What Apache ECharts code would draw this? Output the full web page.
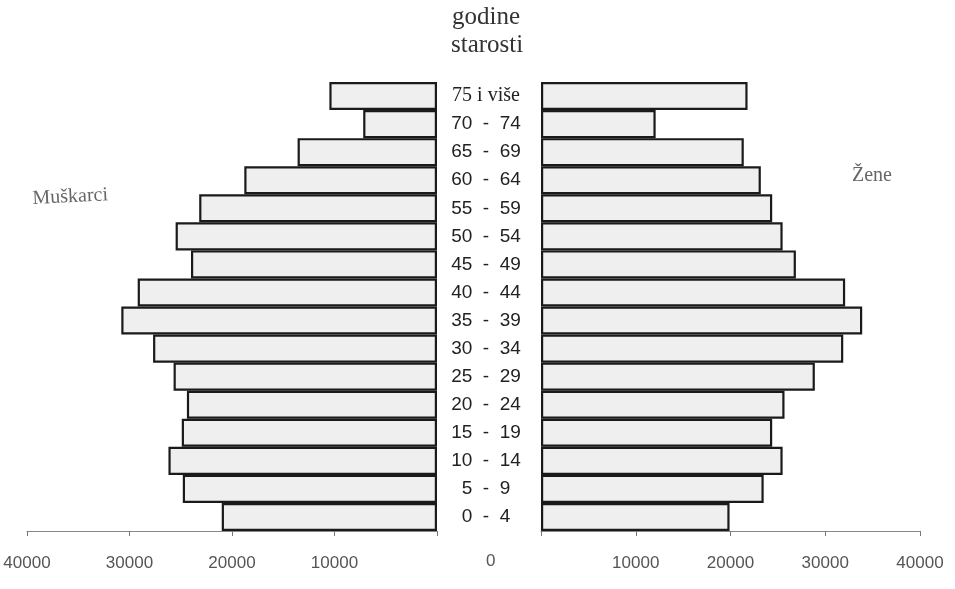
<!DOCTYPE html>
<html>
<head>
<meta charset="utf-8">
<script src="https://cdn.jsdelivr.net/npm/echarts@6/dist/echarts.min.js"></script>
<style>html,body{margin:0;padding:0;background:#fff}#c{width:955px;height:589px}</style>
</head>
<body>
<div id="c"></div>
<script>
const categories = ['0 - 4','5 - 9','10 - 14','15 - 19','20 - 24','25 - 29','30 - 34','35 - 39','40 - 44','45 - 49','50 - 54','55 - 59','60 - 64','65 - 69','70 - 74','75 i više'];
const male   = [21000, 24800, 26200, 24900, 24400, 25700, 27700, 30800, 29200, 24000, 25500, 23200, 18800, 13600, 7200, 10500];
const female = [19900, 23500, 25500, 24400, 25700, 28900, 31900, 33900, 32100, 26900, 25500, 24400, 23200, 21400, 12100, 21800];
const xTicks = [0, 10000, 20000, 30000, 40000];

const chart = echarts.init(document.getElementById('c'), null, {renderer: 'canvas'});
const barStyle = {color: '#efefef', borderColor: '#1a1a1a', borderWidth: 2.2};
const xAxisCommon = {
  type: 'value', min: xTicks[0], max: xTicks[xTicks.length - 1], interval: xTicks[1] - xTicks[0],
  splitLine: {show: false},
  axisLine: {show: true, lineStyle: {color: '#888', width: 1}},
  axisTick: {show: true, length: 5, lineStyle: {color: '#777'}},
  axisLabel: {formatter: v => v === 0 ? '' : String(v), color: '#555', fontSize: 17, fontFamily: 'Liberation Sans', margin: 24}
};
chart.setOption({
  animation: false,
  backgroundColor: '#fff',
  grid: [
    {left: 27, right: 518, top: 82, bottom: 58},
    {left: 541, right: 35, top: 82, bottom: 58}
  ],
  xAxis: [
    Object.assign({gridIndex: 0, inverse: true}, xAxisCommon),
    Object.assign({gridIndex: 1}, xAxisCommon)
  ],
  yAxis: [
    {gridIndex: 0, type: 'category', data: categories, axisLabel: {show: false}, axisLine: {show: false}, axisTick: {show: false}},
    {gridIndex: 1, type: 'category', data: categories, axisLine: {show: false}, axisTick: {show: false},
     axisLabel: {align: 'center', margin: 55, fontSize: 19, color: '#222', fontFamily: 'Liberation Sans',
       formatter: v => v === '75 i više' ? '{s|' + v + '}' : v.replace(' - ', '  -  '),
       rich: {s: {fontFamily: 'Liberation Serif', fontSize: 20, color: '#222'}}}}
  ],
  series: [
    {type: 'bar', name: 'Muškarci', xAxisIndex: 0, yAxisIndex: 0, data: male, barCategoryGap: '0%', itemStyle: barStyle},
    {type: 'bar', name: 'Žene', xAxisIndex: 1, yAxisIndex: 1, data: female, barCategoryGap: '0%', itemStyle: barStyle}
  ],
  graphic: [
    {type: 'text', left: 452, top: 5, style: {text: 'godine', fontSize: 25, fontFamily: 'Liberation Serif', fill: '#333'}},
    {type: 'text', left: 451, top: 33, style: {text: 'starosti', fontSize: 25, fontFamily: 'Liberation Serif', fill: '#333'}},
    {type: 'text', left: 32, top: 185, rotation: 0.05, style: {text: 'Muškarci', fontSize: 20, fontFamily: 'Liberation Serif', fill: '#666'}},
    {type: 'text', left: 852, top: 166, style: {text: 'Žene', fontSize: 20, fontFamily: 'Liberation Serif', fill: '#666'}},
    {type: 'text', left: 486, top: 553, style: {text: '0', fontSize: 17, fontFamily: 'Liberation Sans', fill: '#555'}}
  ]
});
</script>
</body>
</html>
